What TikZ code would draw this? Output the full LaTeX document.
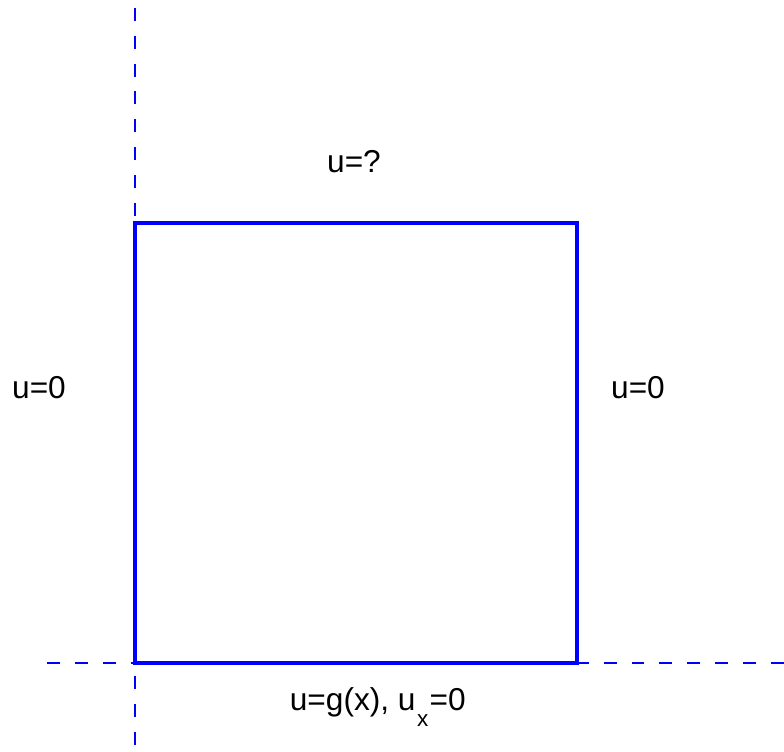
\documentclass[tikz,border=0pt]{standalone}
\usepackage{fontspec}
\setmainfont{Liberation Sans}
\begin{document}
\begin{tikzpicture}[line cap=butt,line join=miter,
  edge/.style={blue,line width=2.8pt},
  axis/.style={blue,line width=0.9pt,dash pattern=on 9.2pt off 10.6pt},
  bc/.style={font=\fontsize{22.5}{26}\selectfont}]
  \useasboundingbox (-3.375,-2.225) rectangle (16.225,16.575);
  % Axes through the lower left corner.
  \draw[axis] (0,16.375)--(0,-2.225);
  \draw[axis] (-2.2,0)--(16.225,0);
  % The square domain.
  \coordinate (sw) at (0,0);
  \coordinate (se) at (11.05,0);
  \coordinate (ne) at (11.05,11);
  \coordinate (nw) at (0,11);
  \draw[edge] (sw)--(se)--(ne)--(nw)--cycle;
  % Boundary conditions.
  \node[bc] (top) at (5.475,12.525) {u=?};
  \node[bc] (left) at (-2.4,6.875) {u=0};
  \node[bc] (right) at (12.575,6.875) {u=0};
  \node[bc,anchor=base] (bottom) at (6.07,-1.2)
    {u=g(x), u\kern1pt\raisebox{-11pt}{\fontsize{16}{18}\selectfont x}\kern1pt=0};
\end{tikzpicture}
\end{document}
